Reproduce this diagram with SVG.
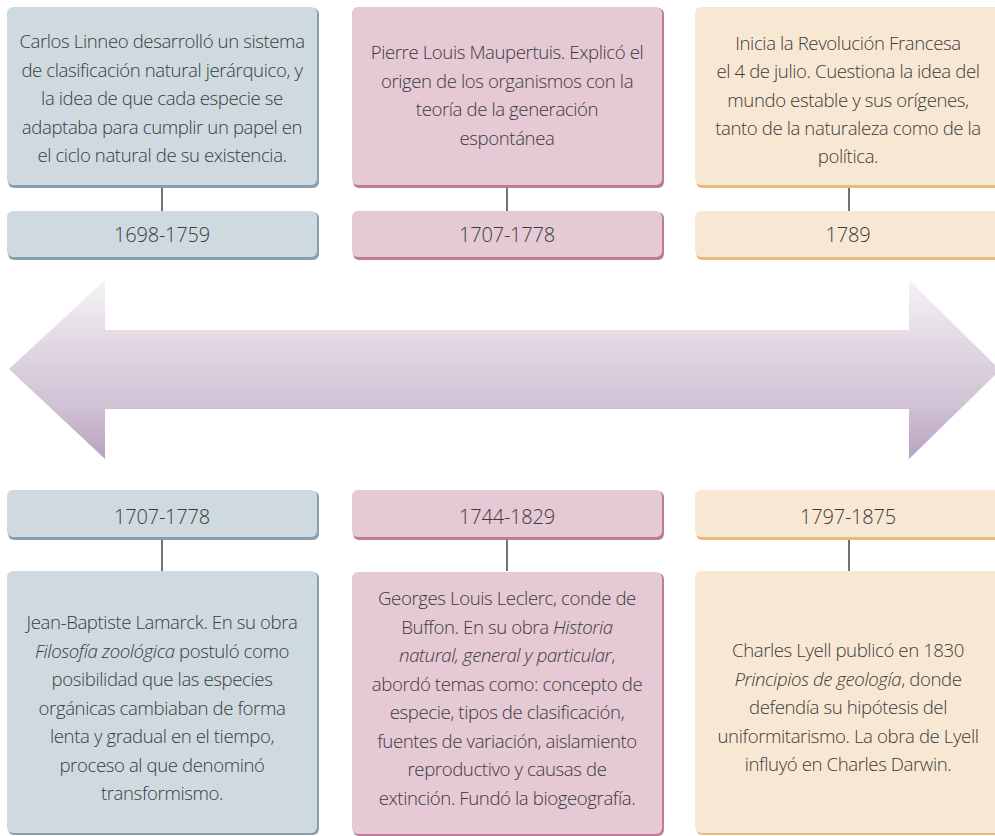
<svg xmlns="http://www.w3.org/2000/svg" width="995" height="836" viewBox="0 0 995 836">
<defs>
<linearGradient id="arrowGrad" x1="0" y1="280" x2="0" y2="459" gradientUnits="userSpaceOnUse">
<stop offset="0" stop-color="#f5f3f6"/>
<stop offset="0.3" stop-color="#e5dce6"/>
<stop offset="0.7" stop-color="#d0c1d4"/>
<stop offset="1" stop-color="#b9a2bf"/>
</linearGradient>
<style>
.t{font-family:"Open Sans","Noto Sans","Liberation Sans",sans-serif;font-weight:300;font-size:18.6px;letter-spacing:-0.4px;fill:#3b3b3b;text-anchor:middle}
.d{font-size:20px;letter-spacing:-0.2px}
.i{font-style:italic}
.blue{fill:#cfdae0}
.blueS{fill:#86a1ae}
.pink{fill:#e5c9d4}
.pinkS{fill:#bf7c98}
.peach{fill:#f8e8d3}
.peachS{fill:#ebbb7a}
.conn{stroke:#454545;stroke-width:1.5}
</style>
</defs>

<g id="arrow">
<polygon points="9,369 105,280 105,330 909,330 909,280 995,365 995,375 909,459 909,409 105,409 105,459" fill="url(#arrowGrad)"/>
</g>

<g id="connectors">
<line class="conn" x1="162" y1="187" x2="162" y2="211"/>
<line class="conn" x1="507" y1="187" x2="507" y2="211"/>
<line class="conn" x1="849" y1="187" x2="849" y2="211"/>
<line class="conn" x1="162" y1="539" x2="162" y2="571"/>
<line class="conn" x1="507" y1="539" x2="507" y2="571"/>
<line class="conn" x1="849" y1="539" x2="849" y2="571"/>
</g>

<g id="linneo">
<rect class="blueS" x="8" y="8" width="311" height="180" rx="6"/>
<rect class="blue" x="7" y="7" width="310" height="178" rx="6"/>
<text class="t" x="162" y="48">Carlos Linneo desarrolló un sistema</text>
<text class="t" x="162" y="76.5">de clasificación natural jerárquico, y</text>
<text class="t" x="162" y="105">la idea de que cada especie se</text>
<text class="t" x="162" y="133.5">adaptaba para cumplir un papel en</text>
<text class="t" x="162" y="162">el ciclo natural de su existencia.</text>
</g>
<g id="linneo-date">
<rect class="blueS" x="8" y="212" width="311" height="48" rx="6"/>
<rect class="blue" x="7" y="211" width="310" height="46" rx="6"/>
<text class="t d" x="162" y="242">1698-1759</text>
</g>

<g id="maupertuis">
<rect class="pinkS" x="353" y="8" width="311" height="180" rx="6"/>
<rect class="pink" x="352" y="7" width="310" height="178" rx="6"/>
<text class="t" x="507" y="59">Pierre Louis Maupertuis. Explicó el</text>
<text class="t" x="507" y="87.5">origen de los organismos con la</text>
<text class="t" x="507" y="116">teoría de la generación</text>
<text class="t" x="507" y="144.5">espontánea</text>
</g>
<g id="maupertuis-date">
<rect class="pinkS" x="353" y="212" width="311" height="48" rx="6"/>
<rect class="pink" x="352" y="211" width="310" height="46" rx="6"/>
<text class="t d" x="507" y="242">1707-1778</text>
</g>

<g id="revolucion">
<rect class="peachS" x="696" y="8" width="311" height="180" rx="6"/>
<rect class="peach" x="695" y="7" width="310" height="178" rx="6"/>
<text class="t" x="848" y="50">Inicia la Revolución Francesa</text>
<text class="t" x="848" y="78">el 4 de julio. Cuestiona la idea del</text>
<text class="t" x="848" y="106.5">mundo estable y sus orígenes,</text>
<text class="t" x="848" y="135">tanto de la naturaleza como de la</text>
<text class="t" x="848" y="163">política.</text>
</g>
<g id="revolucion-date">
<rect class="peachS" x="696" y="212" width="311" height="48" rx="6"/>
<rect class="peach" x="695" y="211" width="310" height="46" rx="6"/>
<text class="t d" x="848" y="242">1789</text>
</g>

<g id="lamarck-date">
<rect class="blueS" x="8" y="491" width="311" height="49" rx="6"/>
<rect class="blue" x="7" y="490" width="310" height="47" rx="6"/>
<text class="t d" x="162" y="524">1707-1778</text>
</g>
<g id="lamarck">
<rect class="blueS" x="8" y="572" width="311" height="263" rx="6"/>
<rect class="blue" x="7" y="571" width="310" height="262" rx="6"/>
<text class="t" x="162" y="629">Jean-Baptiste Lamarck. En su obra</text>
<text class="t" x="162" y="657.5"><tspan class="i">Filosofía zoológica</tspan> postuló como</text>
<text class="t" x="162" y="686">posibilidad que las especies</text>
<text class="t" x="162" y="714.5">orgánicas cambiaban de forma</text>
<text class="t" x="162" y="743">lenta y gradual en el tiempo,</text>
<text class="t" x="162" y="771.5">proceso al que denominó</text>
<text class="t" x="162" y="800">transformismo.</text>
</g>

<g id="buffon-date">
<rect class="pinkS" x="353" y="491" width="311" height="49" rx="6"/>
<rect class="pink" x="352" y="490" width="310" height="47" rx="6"/>
<text class="t d" x="507" y="524">1744-1829</text>
</g>
<g id="buffon">
<rect class="pinkS" x="353" y="573" width="311" height="263" rx="6"/>
<rect class="pink" x="352" y="572" width="310" height="262" rx="6"/>
<text class="t" x="507" y="605">Georges Louis Leclerc, conde de</text>
<text class="t" x="507" y="633.5">Buffon. En su obra <tspan class="i">Historia</tspan></text>
<text class="t" x="507" y="662"><tspan class="i">natural, general y particular</tspan>,</text>
<text class="t" x="507" y="690.5">abordó temas como: concepto de</text>
<text class="t" x="507" y="719">especie, tipos de clasificación,</text>
<text class="t" x="507" y="747.5">fuentes de variación, aislamiento</text>
<text class="t" x="507" y="776">reproductivo y causas de</text>
<text class="t" x="507" y="804.5">extinción. Fundó la biogeografía.</text>
</g>

<g id="lyell-date">
<rect class="peachS" x="696" y="491" width="311" height="49" rx="6"/>
<rect class="peach" x="695" y="490" width="310" height="47" rx="6"/>
<text class="t d" x="848" y="524">1797-1875</text>
</g>
<g id="lyell">
<rect class="peachS" x="696" y="572" width="311" height="263" rx="6"/>
<rect class="peach" x="695" y="571" width="310" height="262" rx="6"/>
<text class="t" x="848" y="657">Charles Lyell publicó en 1830</text>
<text class="t" x="848" y="685.5"><tspan class="i">Principios de geología</tspan>, donde</text>
<text class="t" x="848" y="714">defendía su hipótesis del</text>
<text class="t" x="848" y="742.5">uniformitarismo. La obra de Lyell</text>
<text class="t" x="848" y="771">influyó en Charles Darwin.</text>
</g>
</svg>
